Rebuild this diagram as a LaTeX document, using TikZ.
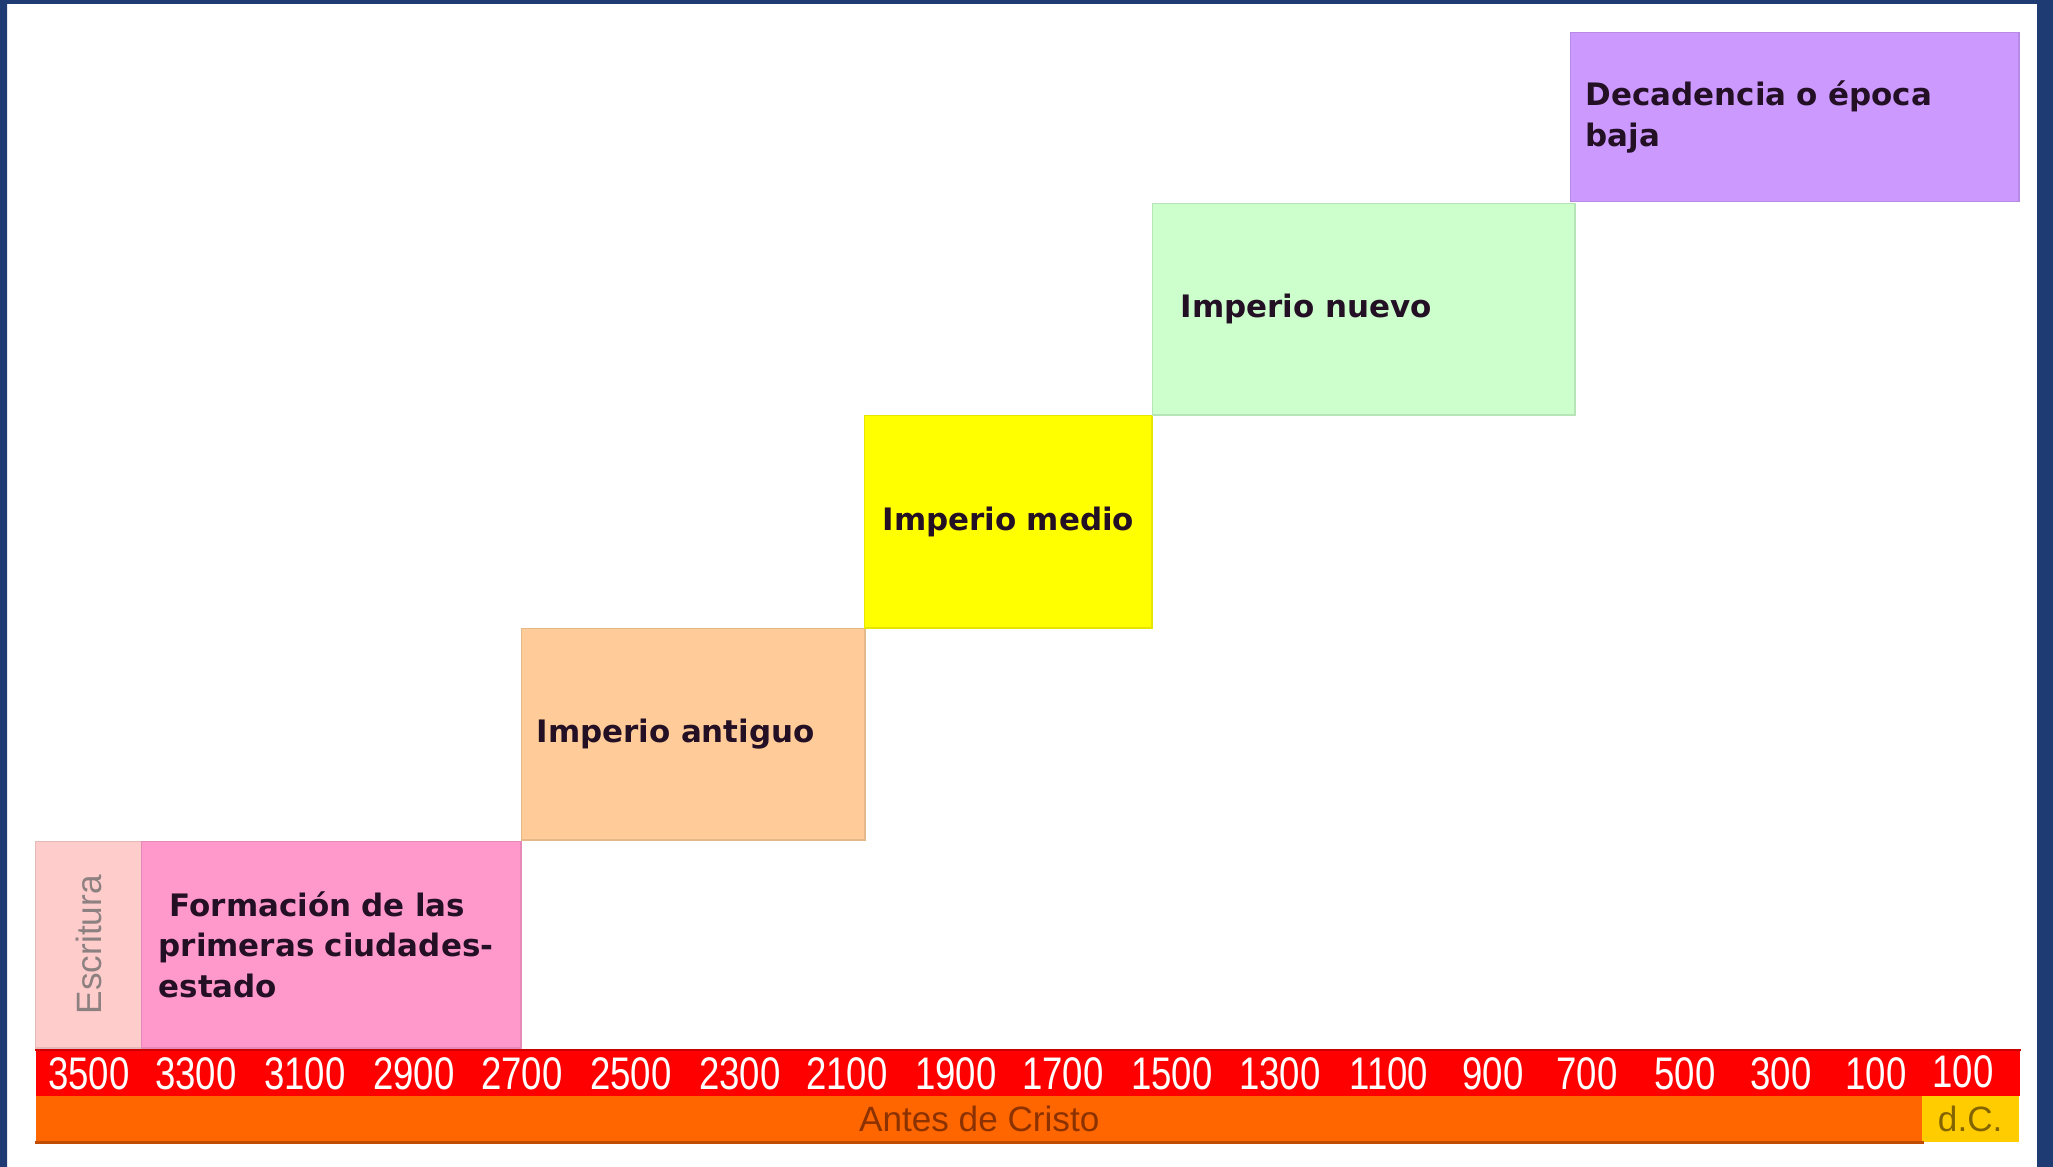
\documentclass[tikz,border=0pt]{standalone}
\usepackage{fontspec}
\setmainfont{DejaVu Sans}
\newfontfamily\narrowfont{Liberation Sans}[FakeStretch=0.8]
\newfontfamily\arialfont{Liberation Sans}
\definecolor{marco}{RGB}{31,59,115}
\definecolor{escritura}{RGB}{255,204,204}
\definecolor{formacion}{RGB}{255,153,204}
\definecolor{antiguo}{RGB}{255,204,153}
\definecolor{medio}{RGB}{255,255,0}
\definecolor{nuevo}{RGB}{204,255,204}
\definecolor{decadencia}{RGB}{204,153,255}
\definecolor{rojo}{RGB}{255,0,0}
\definecolor{naranja}{RGB}{255,102,0}
\definecolor{amarillo}{RGB}{255,204,0}
\definecolor{texto}{RGB}{36,16,36}
\definecolor{gris}{RGB}{140,128,128}
\definecolor{textoantes}{RGB}{140,50,0}
\definecolor{textodc}{RGB}{130,100,0}
\begin{document}
\begin{tikzpicture}[x=0.01cm,y=-0.01cm,
    periodo/.style={anchor=north west,fill=#1,draw=#1!90!black,line width=0.4pt,
      inner ysep=0pt,text=texto,align=left,font=\fontsize{8.8}{11.6}\selectfont\bfseries},
    anio/.style={anchor=base,inner sep=0pt,text=white,font=\narrowfont\fontsize{13}{13}\selectfont},
    banda/.style={anchor=north west,fill=#1,inner sep=0pt,font=\arialfont\fontsize{10}{10}\selectfont}]
  \useasboundingbox (0,0) rectangle (2053,1167);
  % marco azul
  \fill[marco] (0,0) rectangle (2053,4) (0,0) rectangle (7,1167) (2037,0) rectangle (2053,1167);
  % epocas
  \node[periodo=escritura,minimum width=1.06cm,minimum height=2.06cm] (escritura) at (35,841) {};
  \node[rotate=90,inner sep=0pt,text=gris,font=\arialfont\fontsize{10}{10}\selectfont] (t-escritura) at (escritura.center) {Escritura};
  \node[periodo=formacion,minimum height=2.06cm,inner xsep=0.17cm,text width=3.45cm] (formacion) at (141,841)
    {\hspace*{0.11cm}Formación de las\\primeras ciudades-\\estado};
  \node[periodo=antiguo,minimum height=2.11cm,inner xsep=0.15cm,text width=3.13cm] (antiguo) at (521,628) {Imperio antiguo};
  \node[periodo=medio,minimum height=2.12cm,inner xsep=0.1cm,text width=2.67cm,align=center] (medio) at (864,415) {Imperio medio};
  \node[periodo=nuevo,minimum height=2.11cm,inner xsep=0.28cm,text width=3.66cm] (nuevo) at (1152,203) {Imperio nuevo};
  \node[periodo=decadencia,minimum height=1.69cm,inner xsep=0.15cm,text width=4.18cm] (decadencia) at (1570,32)
    {Decadencia o época\\baja};
  % escala de tiempo
  \node[banda=rojo,minimum width=19.83cm,minimum height=0.45cm] (barra) at (35,1050) {};
  \node[banda=naranja,minimum width=18.86cm,minimum height=0.46cm,text=textoantes] (antes) at (35,1095) {Antes de Cristo};
  \node[banda=amarillo,minimum width=0.97cm,minimum height=0.46cm,text=textodc] (dc) at (1921,1095) {d.C.};
  \draw[rojo!80!black,line width=0.8pt] (barra.north west) -- (barra.north east);
  \draw[naranja!75!black,line width=0.8pt] (antes.south west) -- (antes.south east);
  \foreach \a/\x [count=\i] in {3500/89,3300/196,3100/305,2900/414,2700/522,2500/631,2300/740,2100/847,1900/956,
      1700/1063,1500/1172,1300/1280,1100/1389,900/1493,700/1587,500/1685,300/1781,100/1876}
    \node[anio] (anio\i) at (\x,1090) {\a};
  \node[anio] (anio19) at (1963,1087) {100};
\end{tikzpicture}
\end{document}
